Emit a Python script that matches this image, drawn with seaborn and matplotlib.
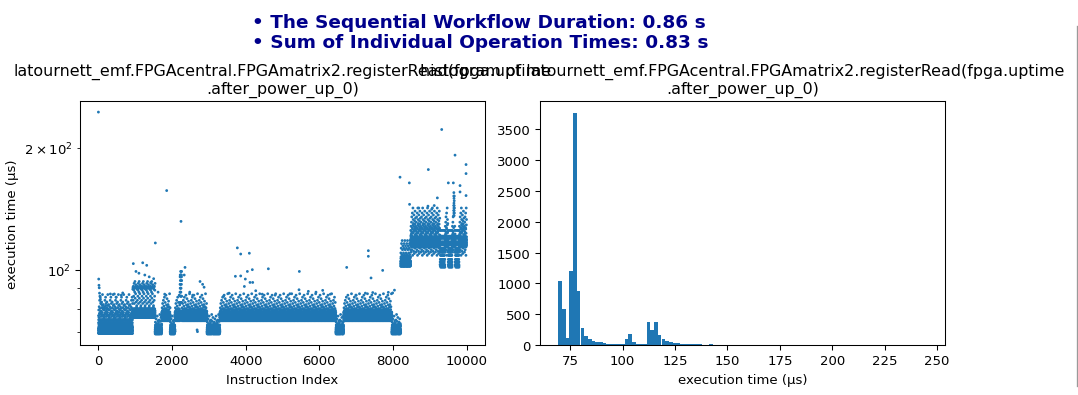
import numpy as np
import pandas as pd
import matplotlib
matplotlib.use("Agg")
import matplotlib.pyplot as plt
import seaborn as sns
from matplotlib.lines import Line2D

# ---------------- data ----------------
header_lines = ["\u2022 The Sequential Workflow Duration: 0.86 s",
                "\u2022 Sum of Individual Operation Times: 0.83 s"]
op_name = "latournett_emf.FPGAcentral.FPGAmatrix2.registerRead(fpga.uptime\n.after_power_up_0)"

# scatter: consecutive index segments and the kind of level band they sit in
seg_start = [0, 930, 1540, 1720, 1950, 2080, 2215, 2262, 2950, 3300, 6450, 6660,
             7970, 8210, 8480, 9280, 9410, 9500, 9605, 9648, 9668, 9690, 9795]
seg_end = [930, 1540, 1720, 1950, 2080, 2215, 2262, 2950, 3300, 6450, 6660, 7970,
           8210, 8480, 9280, 9410, 9500, 9605, 9648, 9668, 9690, 9795, 10000]
seg_kind = ["start", "upper", "low", "mid", "low", "mid", "spike", "mid", "low", "mid",
            "low", "mid", "low", "step", "high", "dip", "high", "dip", "high", "column",
            "high", "dip", "high"]

# typical execution-time levels (µs) read for each band kind: core values and sparse fringe values
low_core = [70.3, 69.8, 71.2, 70.6, 69.4, 72.0, 70.1, 71.6, 70.9, 73.0, 69.9, 71.0, 72.5, 70.4]
low_fringe = [74.2, 75.6, 73.6, 76.8, 74.8, 73.9, 75.1, 77.5, 74.5, 76.2, 73.4]
start_core = [70.1, 71.5, 69.7, 72.8, 70.6, 74.0, 69.9, 71.0, 75.2, 70.4, 72.2, 69.6, 73.4, 70.8, 71.9]
start_fringe = [77.0, 79.5, 76.2, 81.0, 78.0, 84.0, 77.5, 80.2, 85.5, 78.8, 82.5, 76.6,
                79.0, 77.8, 83.2, 80.6, 76.9, 78.4, 86.8, 81.6, 77.2, 79.8, 82.0, 76.0]
mid_core = [76.4, 77.0, 75.2, 77.6, 76.1, 78.3, 76.7, 77.3, 74.8, 77.9, 76.2,
            76.9, 75.7, 77.5, 76.5, 77.1, 75.4, 77.8, 76.3, 77.2, 76.8]
mid_fringe = [78.6, 80.5, 79.2, 82.5, 78.9, 79.6, 84.0, 78.4, 81.3, 79.9, 85.5, 78.7,
              80.2, 83.0, 79.3, 78.5, 86.5, 80.0, 81.8, 79.0, 84.8, 78.8, 80.8, 79.5,
              82.0, 78.3, 83.6, 79.7, 81.0, 78.6, 87.2]
upper_core = [76.8, 77.5, 78.3, 79.2, 76.2, 80.0, 77.9, 78.8, 76.5, 79.6, 77.2]
upper_fringe = [89.5, 90.5, 84.0, 91.0, 86.0, 89.0, 92.5, 82.5, 90.0, 88.0, 93.5, 85.0,
                90.8, 87.2, 91.8, 83.2, 90.2, 80.8, 81.5]
spike_core = [78.0, 88.0, 77.0, 92.0, 96.0, 76.5, 90.0, 99.0, 77.5, 86.0, 94.0, 79.0]
spike_fringe = [83.0, 97.0]
step_core = [102.0, 103.5, 105.0, 104.2, 102.8, 106.5, 103.0, 107.5, 104.8, 102.4]
step_fringe = [110.0, 113.0, 116.0, 109.0, 118.0, 112.0, 114.5, 108.2]
high_core = [114.5, 116.0, 117.5, 115.2, 119.0, 116.8, 113.8, 118.2, 120.5, 115.8,
             117.0, 114.9, 116.4, 118.8]
high_fringe = [125.0, 121.5, 128.0, 110.5, 122.5, 131.0, 124.0, 135.0, 112.0, 121.0,
               127.0, 138.0, 126.0, 108.5, 123.0, 142.0, 129.0, 133.0, 123.5, 130.0,
               111.0, 124.6, 136.5, 127.8, 109.6, 125.8, 132.0, 113.0, 129.6, 139.5,
               122.0, 126.6, 134.0]
dip_core = [103.0, 110.5, 104.5, 113.0, 102.2, 115.5, 106.0, 111.8, 117.0, 108.5]
dip_fringe = [121.0, 125.0, 101.4, 119.5]
column_core = [136.0, 140.0, 144.0, 148.0, 152.0, 155.0, 138.0, 142.0, 146.0, 150.0, 118.0, 116.0]
column_fringe = [121.0]

# isolated points (instruction index, execution time µs)
out_idx = [0, 8, 15, 22, 30, 40, 55, 70, 90, 120, 200, 232, 325, 432, 480, 560, 620, 660,
           948, 1020, 1100, 1203, 1260, 1312, 1380, 1420, 1500, 1546, 1620, 1800, 1854,
           2243, 2330, 2352, 2480, 2560, 2680, 2690, 2760, 2830, 2870,
           3400, 3550, 3720, 3773, 3864, 3864, 3964, 3990, 4045, 4099, 4117, 4180, 4190,
           4272, 4450, 4615, 4800, 5200, 5448, 5457, 5701, 5909, 6091, 6300,
           6743, 7000, 7250, 7331, 7331, 7404, 7450, 7720, 7873, 7990, 8040,
           8191, 8444, 8450, 8700, 8950, 8960, 9050, 9120, 9205, 9323, 9503, 9639,
           9685, 9821, 9821, 9984, 9984, 9984]
out_val = [245.0, 94.8, 91.5, 90.2, 87.5, 86.0, 84.5, 83.0, 82.0, 80.5, 81.5, 79.8, 87.1, 87.1, 85.5, 78.5, 86.5, 87.6,
           103.5, 99.0, 98.0, 104.0, 97.0, 102.5, 96.0, 93.0, 95.0, 116.4, 88.0, 87.0, 156.8,
           131.6, 97.0, 101.3, 88.0, 86.5, 71.0, 70.3, 93.5, 92.0, 90.5,
           86.0, 87.5, 96.3, 113.2, 109.3, 96.5, 90.9, 94.8, 99.0, 109.8, 93.0, 100.0, 93.0,
           88.7, 87.0, 100.5, 86.5, 87.2, 89.2, 99.0, 88.4, 88.0, 88.9, 87.0,
           101.3, 86.5, 87.5, 111.4, 107.9, 95.4, 87.8, 99.6, 87.9, 87.6, 89.0,
           169.2, 163.8, 145.0, 142.0, 143.5, 176.7, 141.0, 144.0, 150.4, 221.9, 163.8, 163.8,
           191.8, 161.3, 155.6, 181.8, 172.7, 152.4]

# histogram: counts of the first 42 of the 100 equal-width bins (the rest are single outliers)
hist_counts = [1036, 589, 108, 1204, 3770, 869, 281, 141, 97, 65, 45, 50, 30, 20,
               18, 16, 15, 16, 97, 173, 50, 14, 12, 22, 378, 243, 378, 157, 97, 65,
               42, 32, 28, 15, 12, 10, 10, 9, 9, 8, 0, 9]
n_bins = 100

# ---------------- build the tables ----------------
band_sets = {
    "low": (low_core, low_fringe, 17),
    "start": (start_core, start_fringe, 6),
    "mid": (mid_core, mid_fringe, 7),
    "upper": (upper_core, upper_fringe, 6),
    "spike": (spike_core, spike_fringe, 5),
    "step": (step_core, step_fringe, 9),
    "high": (high_core, high_fringe, 4),
    "dip": (dip_core, dip_fringe, 7),
    "column": (column_core, column_fringe, 7),
}
rows_i, rows_v = [], []
for s, e, k in zip(seg_start, seg_end, seg_kind):
    core, fringe, stride = band_sets[k]
    for j, i in enumerate(range(s, e)):
        if j % stride == stride // 2:
            v = fringe[(j // stride) % len(fringe)]
        else:
            v = core[j % len(core)]
        if i == 0:
            continue
        rows_i.append(i)
        rows_v.append(v)
rows_i += out_idx
rows_v += out_val
scatter_df = pd.DataFrame({"Instruction Index": rows_i, "execution time (µs)": rows_v})

vmin, vmax = float(min(rows_v)), float(max(rows_v))
width = (vmax - vmin) / n_bins
centers = [vmin + (k + 0.5) * width for k in range(len(hist_counts))]
hx = centers + [v for v in out_val if v > vmin + len(hist_counts) * width]
hw = hist_counts + [1] * (len(hx) - len(centers))
hist_df = pd.DataFrame({"execution time (µs)": hx, "w": hw})

# ---------------- figure ----------------
DPI = 95
W, H = 1078, 396
fig = plt.figure(figsize=(W / DPI, H / DPI), dpi=DPI)
ax1 = fig.add_axes([80 / W, 1 - 346 / H, 405 / W, 244 / H])
ax2 = fig.add_axes([540 / W, 1 - 346 / H, 405 / W, 244 / H])

blue = "#1f77b4"
sns.scatterplot(data=scatter_df, x="Instruction Index", y="execution time (µs)",
                ax=ax1, s=4.5, color=blue, linewidth=0, edgecolor="none")
ax1.set_yscale("log")
ax1.set_xlabel("Instruction Index")
ax1.set_ylabel("execution time (µs)")
ax1.set_title(op_name)

sns.histplot(data=hist_df, x="execution time (µs)", weights="w", bins=n_bins,
             binrange=(vmin, vmax), ax=ax2, color=blue, alpha=1,
             edgecolor="none", linewidth=0)
ax2.set_ylabel("")
ax2.set_xlabel("execution time (µs)")
ax2.set_title("histogram of " + op_name)

fig.text(252 / W, 1 - 27.5 / H, header_lines[0], fontsize=14, fontweight="bold",
         color="#00008B", ha="left", va="baseline")
fig.text(252 / W, 1 - 48.5 / H, header_lines[1], fontsize=14, fontweight="bold",
         color="#00008B", ha="left", va="baseline")

fig.add_artist(Line2D([1077 / W, 1077 / W], [1 - 27 / H, 1 - 387 / H],
                      color="#9a9a9a", lw=1))

fig.savefig("out.png", dpi=DPI)
